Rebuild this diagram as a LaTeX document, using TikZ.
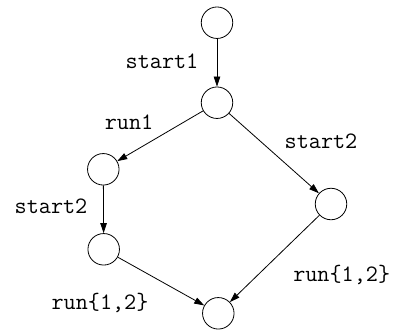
\documentclass[tikz,border=0pt]{standalone}
\usetikzlibrary{arrows.meta}
\begin{document}
\begin{tikzpicture}[x=1pt,y=-1pt,
  state/.style={circle,draw,line width=0.8pt,minimum size=31.5pt,inner sep=0pt},
  edge/.style={line width=0.8pt,-{Triangle[length=10pt,width=6.5pt]}},
  lbl/.style={font=\ttfamily\fontsize{23.5}{27}\selectfont,inner sep=0pt}]
\useasboundingbox (0,0) rectangle (396,333);
\node[state] (a) at (217,22.7) {};
\node[state] (b) at (217,102.7) {};
\node[state] (c) at (103.3,169.3) {};
\node[state] (d) at (331,204) {};
\node[state] (e) at (103.7,249.3) {};
\node[state] (f) at (218.3,313.3) {};
\draw[edge] (a) -- (b);
\draw[edge] (b) -- (c);
\draw[edge] (b) -- (d);
\draw[edge] (c) -- (e);
\draw[edge] (e) -- (f);
\draw[edge] (d) -- (f);
\node[lbl] (l1) at (162,61) {start1};
\node[lbl] (l2) at (129,122.7) {run1};
\node[lbl] (l3) at (321,141.7) {start2};
\node[lbl] (l4) at (51,206.7) {start2};
\node[lbl] (l5) at (341.7,275) {run\{1,2\}};
\node[lbl] (l6) at (100,303.3) {run\{1,2\}};
\end{tikzpicture}
\end{document}
